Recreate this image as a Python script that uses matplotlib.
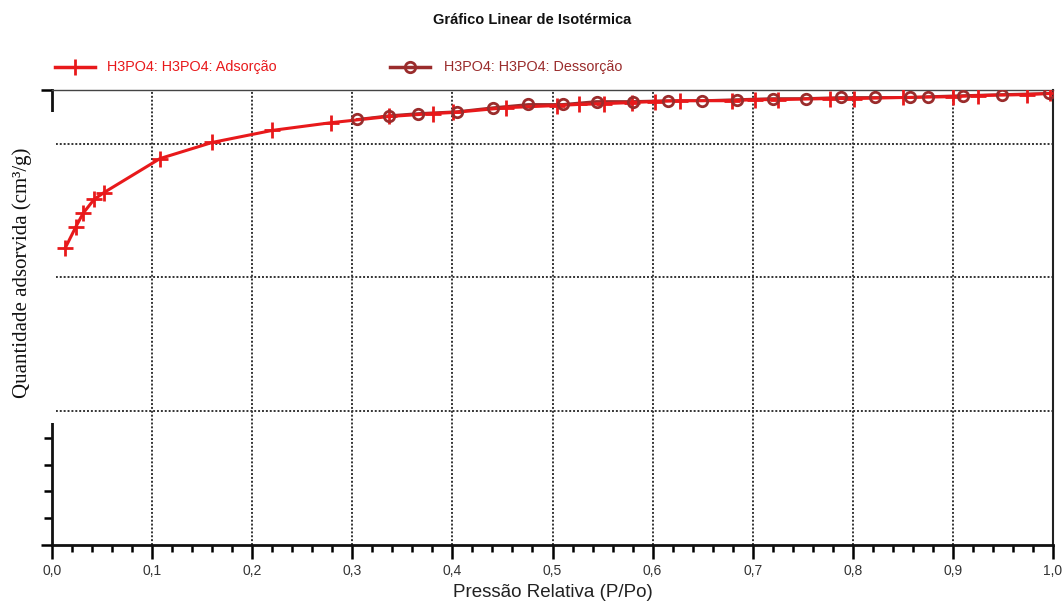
import matplotlib
matplotlib.use("Agg")
import matplotlib.pyplot as plt
from matplotlib.lines import Line2D
from matplotlib.patches import Rectangle
from matplotlib.ticker import MultipleLocator, FixedLocator

# ---- data (P/Po, quantity adsorbed cm3/g) ----
ads_x = [0.013, 0.024, 0.031, 0.042, 0.052, 0.108, 0.160, 0.220, 0.279, 0.337,
         0.381, 0.401, 0.454, 0.504, 0.526, 0.551, 0.579, 0.602, 0.627, 0.679,
         0.702, 0.725, 0.777, 0.801, 0.850, 0.900, 0.925, 0.974, 0.997]
ads_y = [110.8, 119.0, 123.9, 129.1, 131.7, 144.4, 150.4, 154.9, 157.8, 160.1,
         161.2, 161.6, 163.4, 164.2, 164.6, 164.9, 165.3, 165.7, 166.0, 166.0,
         166.4, 166.4, 166.8, 166.8, 167.2, 167.5, 167.9, 168.3, 168.7]
des_x = [0.305, 0.337, 0.366, 0.405, 0.441, 0.476, 0.510, 0.544, 0.580, 0.615,
         0.649, 0.684, 0.720, 0.753, 0.788, 0.822, 0.857, 0.875, 0.910, 0.949, 0.996]
des_y = [159.0, 160.4, 161.2, 161.9, 163.4, 164.6, 164.6, 165.7, 165.7, 166.0,
         166.0, 166.4, 166.8, 166.8, 167.2, 167.2, 167.2, 167.5, 167.9, 168.3, 168.7]
x_ticks = [0.0, 0.1, 0.2, 0.3, 0.4, 0.5, 0.6, 0.7, 0.8, 0.9, 1.0]
x_labels = ["0,0", "0,1", "0,2", "0,3", "0,4", "0,5", "0,6", "0,7", "0,8", "0,9", "1,0"]
title = "Gráfico Linear de Isotérmica"
ads_name = "H3PO4: H3PO4: Adsorção"
des_name = "H3PO4: H3PO4: Dessorção"

RED = "#e8191b"
DRED = "#9a2c2c"
W, H = 1062, 601

fig = plt.figure(figsize=(W / 100, H / 100), dpi=100)
ax = fig.add_axes([52 / W, 1 - 545 / H, (1053 - 52) / W, (545 - 90) / H])
ax.set_xlim(0, 1.0)
ax.set_ylim(0, 170)

# grid
for xv in x_ticks[1:-1]:
    ax.axvline(xv, color="#333333", lw=1.4, ls=(0, (1, 1)), zorder=1)
for yv in [50, 100, 150]:
    ax.axhline(yv, color="#333333", lw=1.4, ls=(0, (1, 1)), zorder=1)

# series
ax.plot(des_x, des_y, color=DRED, lw=2.0, zorder=2)
ax.plot(ads_x, ads_y, color=RED, lw=2.2, marker="+", ms=12, mew=2.0, zorder=3)
ax.plot(des_x, des_y, ls="none", marker="o", ms=7.5, mew=2.0,
        mfc="none", mec=DRED, zorder=4)

# axes styling
ax.set_xticks(x_ticks)
ax.set_xticklabels(x_labels, fontsize=10, family="Liberation Sans", color="#333333")
ax.xaxis.set_minor_locator(MultipleLocator(0.02))
ax.tick_params(axis="x", which="major", direction="out", length=10, width=1.8, pad=4)
ax.tick_params(axis="x", which="minor", direction="out", length=5, width=1.8)
ax.set_yticks([0, 170])
ax.set_yticklabels([])
ax.yaxis.set_minor_locator(FixedLocator([10, 20, 30, 40]))
ax.tick_params(axis="y", which="major", direction="out", length=8, width=1.8)
ax.tick_params(axis="y", which="minor", direction="out", length=6, width=1.8)
for s in ["left", "bottom"]:
    ax.spines[s].set_linewidth(2.0)
    ax.spines[s].set_color("#111111")
ax.spines["right"].set_linewidth(1.5)
ax.spines["right"].set_color("#222222")
ax.spines["top"].set_linewidth(1.0)
ax.spines["top"].set_color("#444444")

ax.set_xlabel("Pressão Relativa (P/Po)", fontsize=13.5, family="Liberation Sans",
              color="#222222", labelpad=4)

# white patch hiding part of left axis (as in reference)
fig.patches.append(Rectangle((0, 1 - 423 / H), 56 / W, (423 - 112) / H,
                             transform=fig.transFigure, facecolor="white",
                             edgecolor="none", zorder=5))

fig.text(22 / W, 1 - 273 / H, "Quantidade adsorvida (cm³/g)", rotation=90,
         ha="center", va="center", fontsize=15, family="Liberation Serif",
         color="#111111", zorder=6)

fig.text(532 / W, 1 - 20 / H, title, ha="center", va="center", fontsize=10.5,
         weight="bold", family="Liberation Sans", color="#111111")

# legend (manual)
def px(x, y):
    return x / W, 1 - y / H

x0, y0 = px(55, 67)
x1, _ = px(95, 67)
fig.lines.append(Line2D([x0, x1], [y0, y0], transform=fig.transFigure,
                        color=RED, lw=2.5))
fig.lines.append(Line2D([(x0 + x1) / 2], [y0], transform=fig.transFigure,
                        color=RED, marker="+", ms=12, mew=2.0, ls="none"))
fig.text(107 / W, y0, ads_name, ha="left", va="center", fontsize=10.4,
         family="Liberation Sans", color=RED)

x2, _ = px(390, 67)
x3, _ = px(430, 67)
fig.lines.append(Line2D([x2, x3], [y0, y0], transform=fig.transFigure,
                        color=DRED, lw=2.5))
fig.lines.append(Line2D([(x2 + x3) / 2], [y0], transform=fig.transFigure,
                        color=DRED, marker="o", ms=7.5, mew=2.0, mfc="none", ls="none"))
fig.text(444 / W, y0, des_name, ha="left", va="center", fontsize=10.4,
         family="Liberation Sans", color=DRED)

fig.savefig("out.png", dpi=100)
